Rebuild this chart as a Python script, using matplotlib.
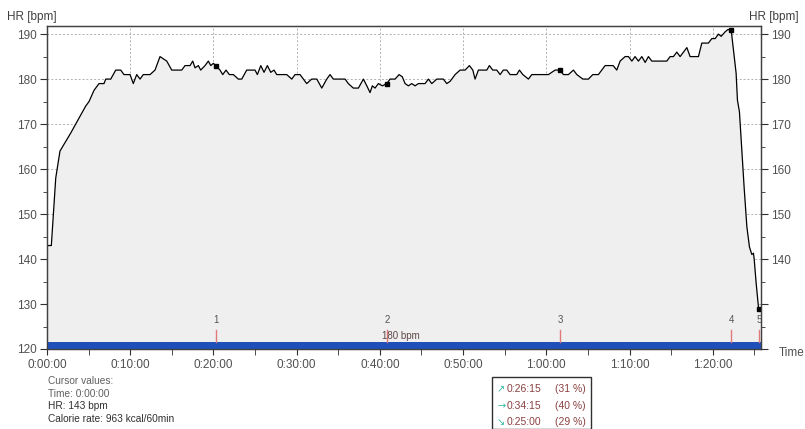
import matplotlib
matplotlib.use("Agg")
import matplotlib.pyplot as plt
from matplotlib.ticker import MultipleLocator, FuncFormatter
from matplotlib.patches import Rectangle

plt.rcParams['font.family'] = ['Liberation Sans', 'DejaVu Sans']

# ---- data (time in minutes, heart rate in bpm) ----
time_min = [0.00, 0.52, 1.05, 1.56, 2.04, 2.85, 3.45, 4.05, 4.65, 5.05, 5.65, 6.25, 6.85, 7.06,
            7.66, 8.26, 8.86, 9.25, 9.65, 9.98, 10.37, 10.78, 11.18, 11.57, 11.78, 12.38, 12.98,
            13.58, 13.98, 14.39, 14.99, 16.19, 16.59, 17.19, 17.51, 17.79, 18.19, 18.47, 18.99,
            19.39, 19.68, 19.99, 20.28, 20.79, 21.12, 21.51, 21.91, 22.39, 22.99, 23.40, 24.00,
            25.00, 25.28, 25.69, 26.08, 26.48, 26.89, 27.28, 27.61, 28.81, 29.41, 29.81, 30.41,
            31.21, 31.81, 32.42, 33.02, 33.62, 34.01, 34.41, 35.82, 36.21, 36.81, 37.42, 38.02,
            38.43, 38.82, 39.10, 39.42, 39.82, 40.30, 40.83, 41.23, 41.83, 42.31, 42.70, 43.03,
            43.43, 43.83, 44.23, 44.63, 45.43, 45.83, 46.24, 46.84, 47.63, 48.04, 48.44, 49.04,
            49.64, 50.24, 50.76, 51.17, 51.44, 51.84, 52.85, 53.16, 53.57, 54.05, 54.45, 54.84,
            55.25, 55.65, 56.45, 56.77, 57.18, 57.85, 58.26, 60.25, 61.06, 61.66, 62.06, 62.66,
            63.26, 63.67, 64.39, 65.06, 65.59, 66.26, 66.67, 67.07, 68.03, 68.47, 68.87, 69.47,
            69.87, 70.28, 70.67, 71.07, 71.48, 71.88, 72.27, 72.68, 74.48, 74.88, 75.28, 75.68,
            76.08, 76.48, 76.89, 77.28, 78.28, 78.69, 79.48, 79.89, 80.29, 80.69, 81.01, 81.49,
            81.81, 82.21, 82.49, 82.81, 82.97, 83.21, 83.50, 83.77, 84.10, 84.41, 84.70, 84.89,
            84.98, 85.22, 85.49, 85.61]
hr_bpm = [143, 143, 158, 164, 165.5, 168, 170, 172, 174, 175, 177.5, 179, 179, 180,
          180, 182, 182, 181, 181, 181, 179, 181, 180, 181, 181, 181, 182,
          185, 184.5, 184, 182, 182, 183, 183, 184, 182.5, 183, 182, 183,
          184, 183, 183.5, 183, 182, 181, 182, 181, 181, 180, 180, 182,
          182, 181, 183, 181.5, 183, 181.5, 182, 181, 181, 180, 181, 181,
          179, 180, 180, 178, 180, 181, 180, 180, 179, 178, 178, 180,
          178.5, 177, 178.5, 178, 179, 178.5, 179, 180, 180, 181, 180.5, 179,
          178.5, 179, 178.5, 179, 179, 180, 179, 180, 180, 179, 179.5, 181,
          182, 182, 183, 182, 180, 182, 182, 183, 182, 182, 181, 182,
          182, 181, 181, 182, 181, 180, 181, 181, 182, 182, 181, 181,
          182, 181, 180, 180, 181, 181, 182, 183, 183, 182, 184, 185,
          185, 184, 185, 184, 185, 183.7, 185, 184, 184, 185, 185, 186,
          185, 186, 187, 185, 185, 188, 188, 189, 189, 190, 189.5, 190.5,
          191, 191, 186.4, 181.3, 175.3, 172.7, 164.2, 156, 147.2, 142.7, 141, 141.3,
          140, 134.6, 129.4, 129]

lap_labels = ["1", "2", "3", "4", "5"]
lap_times = [20.28, 40.83, 61.66, 82.21, 85.61]
lap_hr = [183, 179, 182, 191, 129]

right_tick_values = [140, 150, 160, 170, 180, 190]

y_label = "HR [bpm]"
x_label = "Time"
zone_text = "180 bpm"
cursor_lines = ["Cursor values:", "Time: 0:00:00", "HR: 143 bpm", "Calorie rate: 963 kcal/60min"]
trend_arrows = ["\u2197", "\u2192", "\u2198"]
trend_times = ["0:26:15", "0:34:15", "0:25:00"]
trend_pcts = ["(31 %)", "(40 %)", "(29 %)"]

# ---- figure ----
W, H = 805, 429
fig = plt.figure(figsize=(W / 100, H / 100), dpi=100)
ax = fig.add_axes([47 / W, 1 - 349 / H, (761 - 47) / W, (349 - 26) / H])

ax.set_xlim(0, 85.8)
ax.set_ylim(120, 191.8)
ax.set_axisbelow(True)

ax.fill_between(time_min, hr_bpm, 120, color="#efefef", lw=0, zorder=1)
ax.plot(time_min, hr_bpm, color="black", lw=0.9, zorder=3)

# zone bar
ax.axhspan(120, 121.5, color="#1f4fb8", zorder=4, lw=0)

# lap markers
for lbl, t, h in zip(lap_labels, lap_times, lap_hr):
    ax.plot([t, t], [121.5, 124.3], color="#e07a7a", lw=1, zorder=4)
    ax.text(t, 125.3, lbl, ha="center", va="bottom", fontsize=7, color="#555555", zorder=5)
ax.plot(lap_times, lap_hr, ls="none", marker="s", markersize=3.2, color="black", zorder=5)

ax.text(40.3, 122.9, zone_text, ha="left", va="center", fontsize=7, color="#604848", zorder=5)

# ticks
ax.xaxis.set_major_locator(MultipleLocator(10))
ax.xaxis.set_minor_locator(MultipleLocator(5))
ax.yaxis.set_major_locator(MultipleLocator(10))
ax.yaxis.set_minor_locator(MultipleLocator(5))
ax.xaxis.set_major_formatter(FuncFormatter(lambda v, p: f"{int(v // 60)}:{int(v % 60):02d}:00"))
ax.tick_params(axis="both", which="both", direction="out", colors="#303030",
               labelcolor="#505050", labelsize=8.5)
ax.tick_params(axis="y", which="major", length=5, pad=2)
ax.tick_params(axis="y", which="minor", length=3)
ax.tick_params(axis="x", which="both", length=4, pad=3)

# right axis (labels only from 140 upward)
ax2 = ax.twinx()
ax2.set_ylim(ax.get_ylim())
ax2.yaxis.set_major_locator(MultipleLocator(10))
ax2.yaxis.set_minor_locator(MultipleLocator(5))
ax2.yaxis.set_major_formatter(FuncFormatter(
    lambda v, p: f"{int(round(v))}" if int(round(v)) in right_tick_values else ""))
ax2.tick_params(axis="y", which="both", direction="out", colors="#303030",
                labelcolor="#505050", labelsize=8.5)
ax2.tick_params(axis="y", which="major", length=5, pad=2)
ax2.tick_params(axis="y", which="minor", length=3)

ax.grid(True, which="major", color="#b0b0b0", ls=(0, (2, 2)), lw=0.7)
for a_ in (ax, ax2):
    for s in a_.spines.values():
        s.set_color("#404040")
        s.set_linewidth(0.9)

# axis labels
fig.text(7 / W, 1 - 17 / H, y_label, ha="left", va="center", fontsize=8.5, color="#404040")
fig.text(799 / W, 1 - 17 / H, y_label, ha="right", va="center", fontsize=8.5, color="#404040")
fig.text(779 / W, 1 - 353 / H, x_label, ha="left", va="center", fontsize=8.5, color="#505050")

# cursor values
colors = ["#606060", "#606060", "#303030", "#303030"]
for i, (line, c) in enumerate(zip(cursor_lines, colors)):
    fig.text(48 / W, 1 - (381 + i * 12.7) / H, line, ha="left", va="center", fontsize=7.3, color=c)

# trend box
fig.patches.append(Rectangle((492 / W, 0), (591 - 492) / W, (429 - 377) / H,
                             transform=fig.transFigure, facecolor="white",
                             edgecolor="#303030", lw=1, clip_on=False))
rows_y = [389, 406, 422]
for a, tt, pc, yy in zip(trend_arrows, trend_times, trend_pcts, rows_y):
    fig.text(497 / W, 1 - yy / H, a, ha="left", va="center", fontsize=7, color="#30b8a0",
             family="DejaVu Sans")
    fig.text(507 / W, 1 - yy / H, tt, ha="left", va="center", fontsize=7.5, color="#8a4040")
    fig.text(555 / W, 1 - yy / H, pc, ha="left", va="center", fontsize=7.5, color="#8a4040")

fig.savefig("out.png", dpi=100)
